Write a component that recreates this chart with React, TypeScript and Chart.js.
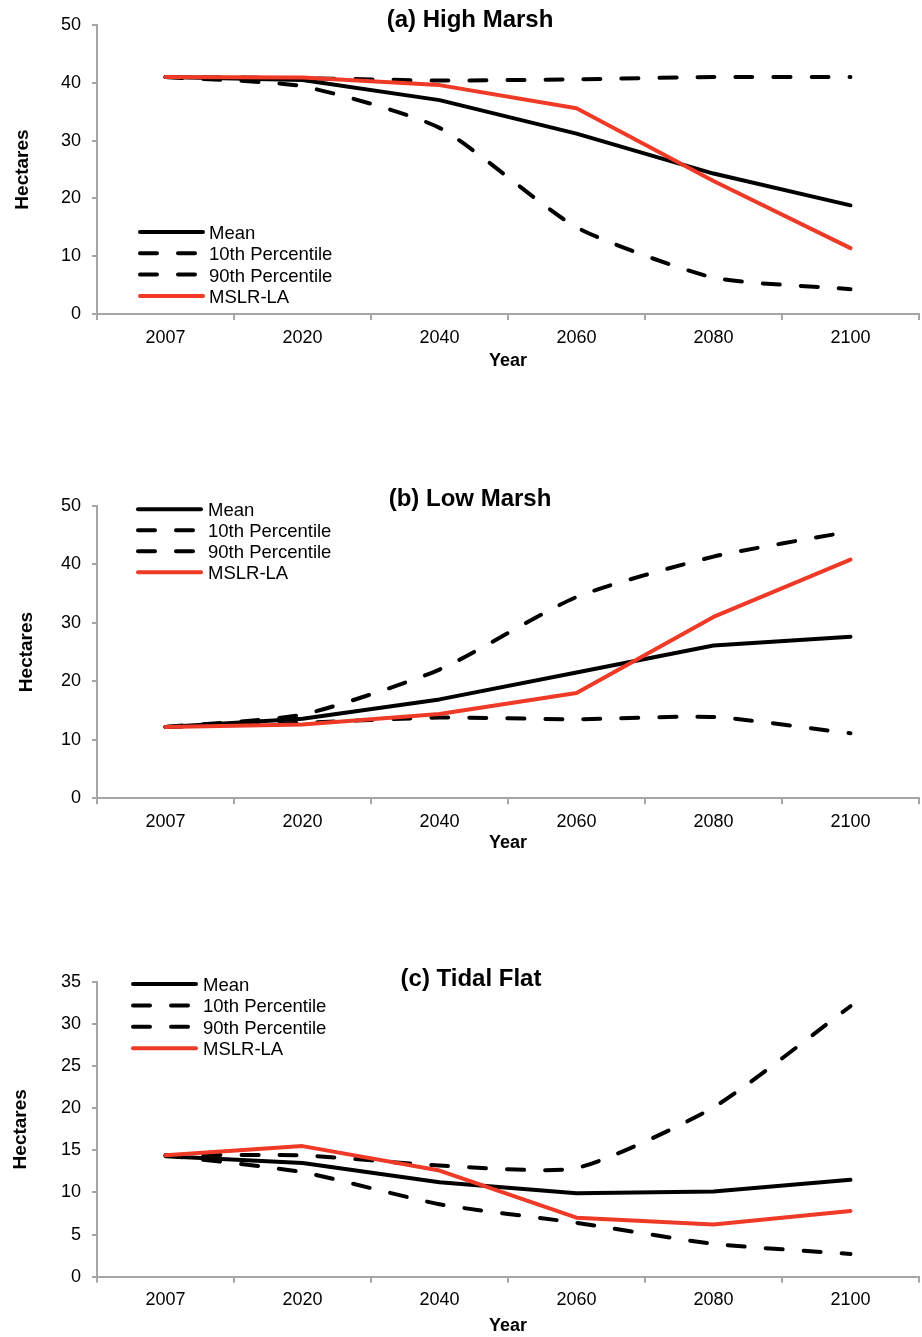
import React, { useEffect, useRef } from "react";
import { Chart, registerables } from "chart.js";

Chart.register(...registerables);

// Categories and series names
const years = ["2007", "2020", "2040", "2060", "2080", "2100"];
const seriesNames = ["Mean", "10th Percentile", "90th Percentile", "MSLR-LA"];

// (a) High Marsh, hectares
const highMean = [41.0, 40.5, 37.0, 31.2, 24.3, 18.8];
const highP10 = [41.0, 39.4, 32.2, 15.0, 6.3, 4.3];
const highP90 = [41.0, 40.8, 40.4, 40.6, 41.0, 41.0];
const highMslr = [41.0, 40.9, 39.6, 35.6, 23.0, 11.4];

// (b) Low Marsh, hectares
const lowMean = [12.2, 13.6, 16.9, 21.5, 26.1, 27.6];
const lowP10 = [12.2, 12.9, 13.8, 13.5, 13.9, 11.1];
const lowP90 = [12.2, 14.3, 22.0, 34.4, 41.3, 45.6];
const lowMslr = [12.2, 12.6, 14.4, 18.0, 31.0, 40.8];

// (c) Tidal Flat, hectares
const flatMean = [14.3, 13.5, 11.2, 9.9, 10.1, 11.5];
const flatP10 = [14.4, 12.4, 8.6, 6.4, 3.9, 2.7];
const flatP90 = [14.4, 14.4, 13.2, 12.9, 20.1, 32.1];
const flatMslr = [14.4, 15.5, 12.6, 7.0, 6.2, 7.8];

// Y axis ranges
const highAxis = { max: 50, step: 10 };
const lowAxis = { max: 50, step: 10 };
const flatAxis = { max: 35, step: 5 };

const FONT = "'Liberation Sans', Arial, Helvetica, sans-serif";
const RED = "#ee3a26";
const AXIS_GREY = "#a6a6a6";
const DASH = [17, 21];

type Panel = {
  title: string;
  mean: number[];
  p10: number[];
  p90: number[];
  mslr: number[];
  axis: { max: number; step: number };
  top: number;
  height: number;
  plotTop: number;
  plotBottom: number;
  yTitlePad: number;
  xTitlePad: number;
  titleX: number;
  titleY: number;
  legendX: number;
  legendTextX: number;
  legendY: number;
  legendStep: number;
};

const panels: Panel[] = [
  {
    title: "(a) High Marsh",
    mean: highMean, p10: highP10, p90: highP90, mslr: highMslr, axis: highAxis,
    top: 0, height: 380, plotTop: 25, plotBottom: 314,
    yTitlePad: 11, xTitlePad: 7.7,
    titleX: 470, titleY: 20,
    legendX: 140, legendTextX: 209, legendY: 232, legendStep: 21.3,
  },
  {
    title: "(b) Low Marsh",
    mean: lowMean, p10: lowP10, p90: lowP90, mslr: lowMslr, axis: lowAxis,
    top: 480, height: 380, plotTop: 25.7, plotBottom: 318.3,
    yTitlePad: 15.5, xTitlePad: 5.9,
    titleX: 470, titleY: 19,
    legendX: 138, legendTextX: 208, legendY: 29.3, legendStep: 21,
  },
  {
    title: "(c) Tidal Flat",
    mean: flatMean, p10: flatP10, p90: flatP90, mslr: flatMslr, axis: flatAxis,
    top: 960, height: 377, plotTop: 18.3, plotBottom: 316.7,
    yTitlePad: 9.5, xTitlePad: 0,
    titleX: 471, titleY: 19,
    legendX: 133, legendTextX: 203, legendY: 24, legendStep: 21.4,
  },
];

const WIDTH = 922;
const Y_AXIS_WIDTH = 97;
const RIGHT_PAD = 3;

function PanelChart({ p }: { p: Panel }) {
  const ref = useRef<HTMLCanvasElement | null>(null);

  useEffect(() => {
    if (!ref.current) return;
    const legendStyles = [
      { color: "#000", dash: [] as number[] },
      { color: "#000", dash: DASH },
      { color: "#000", dash: DASH },
      { color: RED, dash: [] as number[] },
    ];

    const decor = {
      id: "panelDecor",
      afterDraw(chart: any) {
        const ctx = chart.ctx as CanvasRenderingContext2D;
        ctx.save();
        // panel title
        ctx.fillStyle = "#000";
        ctx.font = `bold 24px ${FONT}`;
        ctx.textAlign = "center";
        ctx.textBaseline = "middle";
        ctx.fillText(p.title, p.titleX, p.titleY);

        // legend
        ctx.font = `18.5px ${FONT}`;
        ctx.textAlign = "left";
        legendStyles.forEach((s, i) => {
          const y = p.legendY + i * p.legendStep;
          ctx.beginPath();
          ctx.lineWidth = 4;
          ctx.lineCap = "round";
          ctx.strokeStyle = s.color;
          ctx.setLineDash(s.dash);
          ctx.moveTo(p.legendX, y);
          ctx.lineTo(p.legendX + 63, y);
          ctx.stroke();
          ctx.setLineDash([]);
          ctx.fillStyle = "#000";
          ctx.fillText(seriesNames[i], p.legendTextX, y + 2);
        });
        ctx.restore();
      },
    };

    const common = {
      fill: false,
      pointRadius: 0,
      pointHoverRadius: 0,
      borderWidth: 4,
      borderCapStyle: "round" as const,
      borderJoinStyle: "round" as const,
    };

    const chart = new Chart(ref.current, {
      type: "line",
      data: {
        labels: years,
        datasets: [
          { ...common, label: seriesNames[0], data: p.mean, borderColor: "#000", tension: 0, order: 1 },
          { ...common, label: seriesNames[1], data: p.p10, borderColor: "#000", borderDash: DASH, tension: 0.2, order: 2 },
          { ...common, label: seriesNames[2], data: p.p90, borderColor: "#000", borderDash: DASH, tension: 0.2, order: 2 },
          { ...common, label: seriesNames[3], data: p.mslr, borderColor: RED, tension: 0, order: 0 },
        ],
      },
      options: {
        animation: false,
        responsive: false,
        devicePixelRatio: 1,
        events: [],
        layout: {
          padding: { top: p.plotTop, left: 0, right: RIGHT_PAD, bottom: 0 },
        },
        plugins: {
          legend: { display: false },
          title: { display: false },
          tooltip: { enabled: false },
        },
        scales: {
          x: {
            type: "category",
            offset: true,
            grid: {
              offset: true,
              drawOnChartArea: false,
              drawTicks: true,
              tickLength: 6,
              color: AXIS_GREY,
              lineWidth: 2,
            },
            border: { display: true, color: AXIS_GREY, width: 2 },
            ticks: {
              color: "#000",
              font: { family: FONT, size: 18 },
              padding: 7,
              maxRotation: 0,
              autoSkip: false,
            },
            title: {
              display: true,
              text: "Year",
              color: "#000",
              font: { family: FONT, size: 18, weight: "bold" },
              padding: { top: 0, bottom: p.xTitlePad },
            },
            afterFit: (s: any) => {
              s.height = p.height - p.plotBottom;
            },
          },
          y: {
            min: 0,
            max: p.axis.max,
            grid: {
              drawOnChartArea: false,
              drawTicks: true,
              tickLength: 5,
              color: AXIS_GREY,
              lineWidth: 2,
            },
            border: { display: true, color: AXIS_GREY, width: 2 },
            ticks: {
              stepSize: p.axis.step,
              color: "#000",
              font: { family: FONT, size: 18 },
              padding: 11,
            },
            title: {
              display: true,
              text: "Hectares",
              color: "#000",
              font: { family: FONT, size: 19, weight: "bold" },
              padding: { top: p.yTitlePad, bottom: 0 },
            },
            afterFit: (s: any) => {
              s.width = Y_AXIS_WIDTH;
            },
          },
        },
      },
      plugins: [decor],
    } as any);

    return () => chart.destroy();
  }, [p]);

  return (
    <div style={{ position: "absolute", left: 0, top: p.top, width: WIDTH, height: p.height }}>
      <canvas ref={ref} width={WIDTH} height={p.height} style={{ display: "block" }} />
    </div>
  );
}

export default function App() {
  return (
    <div
      style={{
        position: "absolute",
        left: 0,
        top: 0,
        width: WIDTH,
        height: 1337,
        overflow: "hidden",
        background: "#fff",
      }}
    >
      {panels.map((p) => (
        <PanelChart key={p.title} p={p} />
      ))}
    </div>
  );
}
